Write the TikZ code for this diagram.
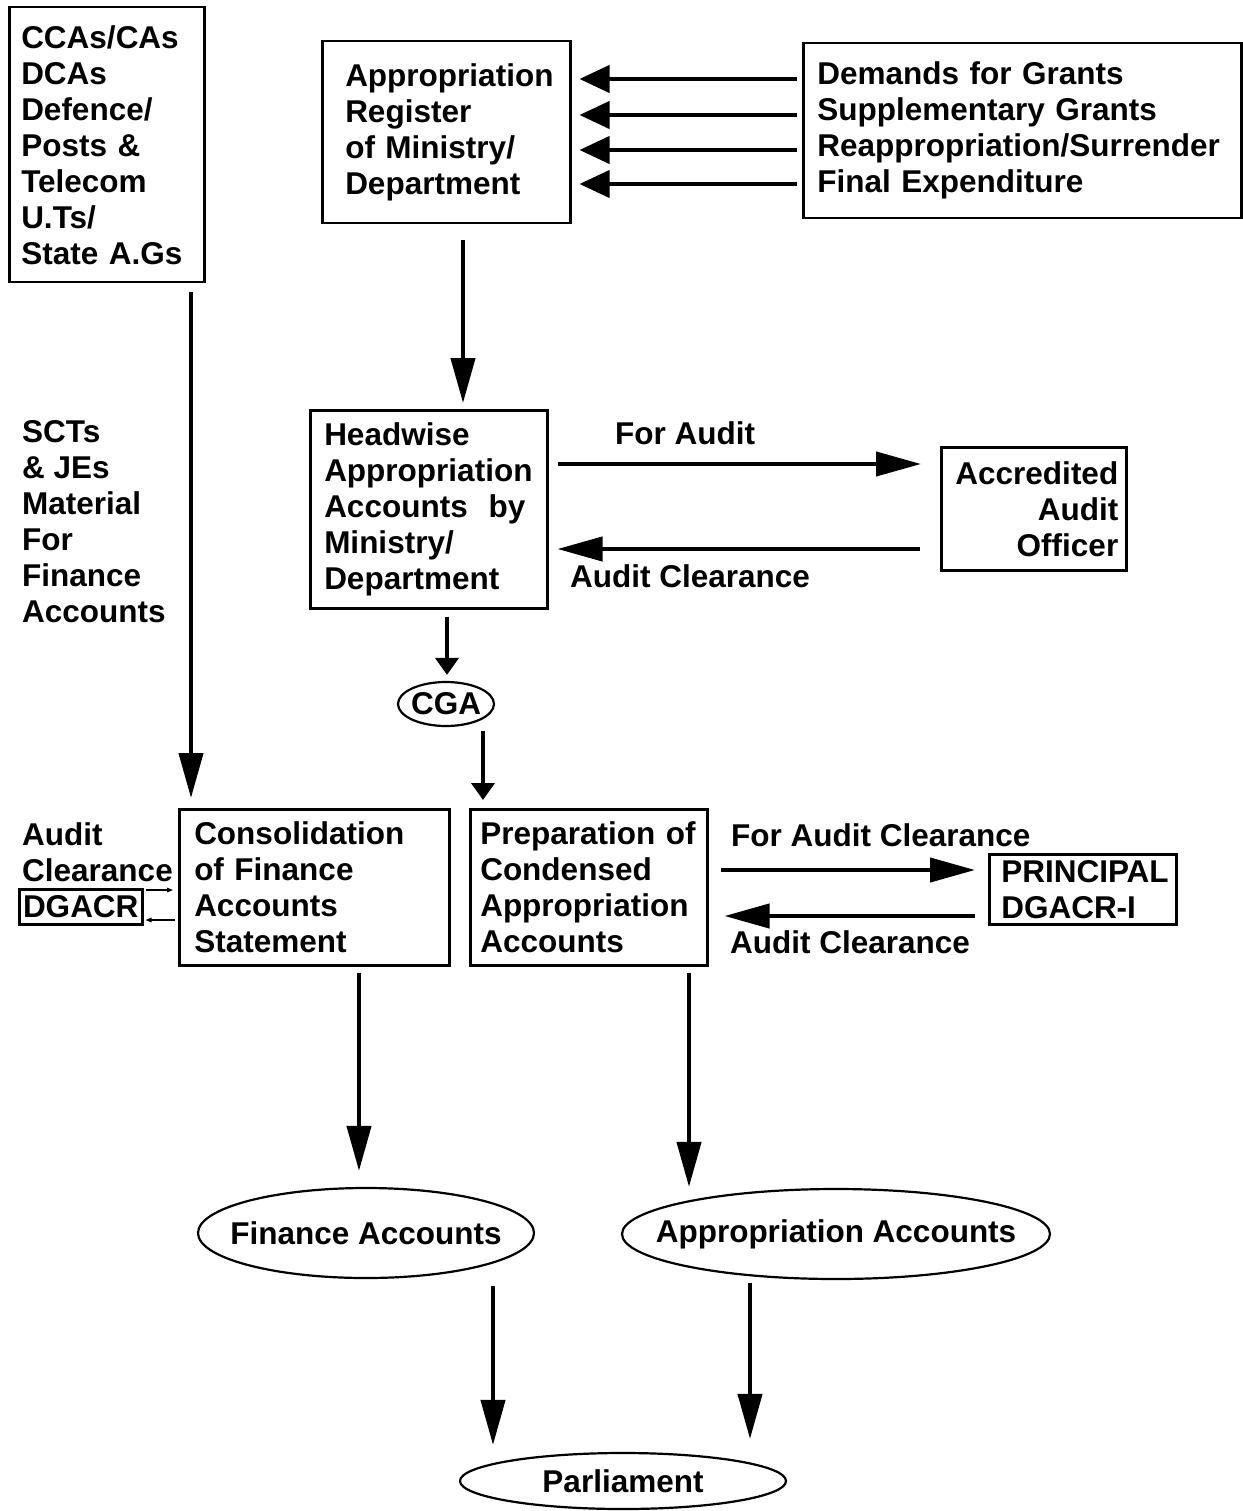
\documentclass[tikz,border=0pt]{standalone}
\usepackage{fontspec}
\setmainfont{Liberation Sans}
\usetikzlibrary{arrows.meta}
\usetikzlibrary{positioning}
\usetikzlibrary{shapes.geometric}

\begin{document}
\begin{tikzpicture}
  [x=1pt,y=-1pt,
   every node/.style={font=\fontsize{31.5pt}{36pt}\selectfont\bfseries,inner sep=0pt},
   box/.style={draw,line width=2.5pt,align=left,anchor=north west},
   oval/.style={draw,ellipse,line width=2.2pt},
   lbl/.style={align=left,anchor=west},
   arr/.style={line width=4.2pt,-{Triangle[length=45pt,width=24pt]}},
   toparr/.style={line width=4.2pt,-{Triangle[length=30pt,width=27pt]}},
   midarr/.style={line width=4pt,-{Triangle[length=17pt,width=23pt]}},
   thinarr/.style={line width=1.2pt,-{Triangle[length=6pt,width=4.5pt]}}]
  \useasboundingbox (0,0) rectangle (1242,1511);

  \node[box,text width=171pt,inner xsep=12pt,minimum height=275pt] (src) at (8,6)
    {CCAs/CAs\\DCAs\\Defence/\\Posts \&\\Telecom\\U.Ts/\\State A.Gs};
  \node[box,text width=202pt,inner xsep=23pt,minimum height=182pt] (reg) at (321,40)
    {Appropriation\\Register\\of Ministry/\\Department};
  \node[box,text width=410pt,inner xsep=14pt,minimum height=175pt] (dem) at (802,42)
    {Demands for Grants\\Supplementary Grants\\Reappropriation/Surrender\\Final Expenditure};
  \node[box,text width=209pt,inner xsep=14pt,minimum height=198pt] (head) at (309,409)
    {Headwise\\Appropriation\\Accounts~~by\\Ministry/\\Department};
  \node[box,align=right,text width=169pt,inner xsep=8pt,minimum height=123pt] (acc) at (940,446)
    {Accredited\\Audit\\Officer};
  \node[box,text width=240pt,inner xsep=15pt,minimum height=156pt] (cons) at (178,808)
    {Consolidation\\of Finance\\Accounts\\Statement};
  \node[box,text width=217pt,inner xsep=10pt,minimum height=156pt] (prep) at (469,808)
    {Preparation of\\Condensed\\Appropriation\\Accounts};
  \node[box,text width=163pt,inner xsep=12pt,minimum height=70pt] (prin) at (988,853)
    {PRINCIPAL\\DGACR-I};
  \node[box,align=center,minimum width=123pt,minimum height=35pt] (dgacr) at (18,888) {DGACR};

  \node[oval,minimum width=96pt,minimum height=44pt] (cga) at (446,704) {\makebox[0pt]{CGA}};
  \node[oval,minimum width=336pt,minimum height=90pt] (fin) at (366,1233) {\makebox[0pt]{Finance Accounts}};
  \node[oval,minimum width=428pt,minimum height=90pt] (app) at (836,1234) {\makebox[0pt]{Appropriation Accounts}};
  \node[oval,minimum width=326pt,minimum height=56pt] (parl) at (623,1481) {\makebox[0pt]{Parliament}};

  \node[lbl] (scts) at (22,522) {SCTs\\\& JEs\\Material\\For\\Finance\\Accounts};
  \node[lbl] (foraud) at (615,433) {For Audit};
  \node[lbl] (clr1) at (570,576) {Audit Clearance};
  \node[lbl] (leftclr) at (22,852) {Audit\\Clearance};
  \node[lbl] (foraudclr) at (731,835) {For Audit Clearance};
  \node[lbl] (clr2) at (730,942) {Audit Clearance};

  \foreach \yy in {79,115,150,184}
    \draw[toparr,shorten <=5pt,shorten >=8pt] (dem.west |- 0,\yy) -- (reg.east |- 0,\yy);
  \draw[arr,shorten <=16pt,shorten >=6pt] (reg.south -| 463,0) -- (head.north -| 463,0);
  \draw[arr,shorten <=9pt,shorten >=19pt] (head.east |- 0,464) -- (acc.west |- 0,464);
  \draw[arr,shorten <=20pt,shorten >=9pt] (acc.west |- 0,549) -- (head.east |- 0,549);
  \draw[midarr,shorten <=7pt,shorten >=6pt] (head.south -| 447,0) -- (cga.north -| 447,0);
  \draw[midarr,shorten <=4pt,shorten >=8pt] (cga.south -| 483,0) -- (prep.north -| 483,0);
  \draw[arr,shorten <=9pt,shorten >=10pt] (src.south -| 191,0) -- (cons.north -| 191,0);
  \draw[arr,shorten <=6pt,shorten >=16pt] (cons.south -| 359,0) -- (fin.north -| 359,0);
  \draw[arr,shorten <=6pt,shorten >=1pt] (prep.south -| 689,0) -- (app.north -| 689,0);
  \draw[arr,shorten <=12pt,shorten >=13pt] (prep.east |- 0,870) -- (prin.west |- 0,870);
  \draw[arr,shorten <=13pt,shorten >=16pt] (prin.west |- 0,916) -- (prep.east |- 0,916);
  \draw[arr,shorten <=7pt,shorten >=7pt] (fin.south -| 493,0) -- (parl.north -| 493,0);
  \draw[arr,shorten <=3pt,shorten >=13pt] (app.south -| 750,0) -- (parl.north -| 750,0);
  \draw[thinarr,shorten <=2pt,shorten >=5pt] (dgacr.east |- 0,890) -- (cons.west |- 0,890);
  \draw[thinarr,shorten <=3pt,shorten >=2pt] (cons.west |- 0,920) -- (dgacr.east |- 0,920);
\end{tikzpicture}
\end{document}
